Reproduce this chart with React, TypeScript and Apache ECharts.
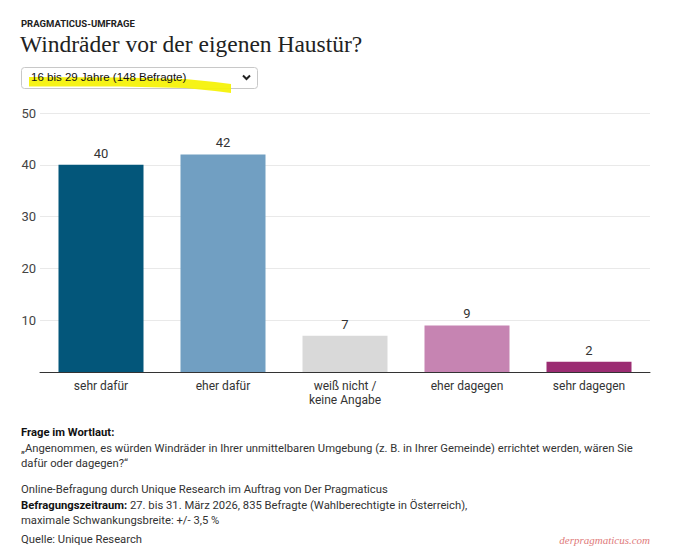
import React, { useEffect, useRef } from "react";
import * as echarts from "echarts";

const categories = ["sehr dafür", "eher dafür", "weiß nicht /\nkeine Angabe", "eher dagegen", "sehr dagegen"];
const values = [40, 42, 7, 9, 2];
const barColors = ["#03567a", "#719fc2", "#d9d9d9", "#c684b2", "#9b2c72"];
const yTicks = { min: 0, max: 50, interval: 10 };

const SANS = "Roboto, 'Noto Sans', sans-serif";
const SERIF = "'Liberation Serif', 'DejaVu Serif', serif";

export default function App() {
  const ref = useRef<HTMLDivElement>(null);
  useEffect(() => {
    if (!ref.current) return;
    const chart = echarts.init(ref.current, null, { renderer: "svg" });
    const footSize = 11.25;
    const footColor = "#333";
    chart.setOption({
      animation: false,
      backgroundColor: "#fff",
      grid: { left: 40, right: 30, top: 113, bottom: 187, containLabel: false },
      xAxis: {
        type: "category",
        data: categories,
        axisLine: { show: true, lineStyle: { color: "#333", width: 1 } },
        axisTick: { show: false },
        axisLabel: {
          color: "#333",
          fontFamily: SANS,
          fontSize: 12,
          margin: 7,
          lineHeight: 14,
          interval: 0,
        },
      },
      yAxis: {
        type: "value",
        min: yTicks.min,
        max: yTicks.max,
        interval: yTicks.interval,
        axisLine: { show: false },
        axisTick: { show: false },
        splitLine: { lineStyle: { color: "#e9e9e9", width: 1 } },
        axisLabel: {
          color: "#444",
          fontFamily: SANS,
          fontSize: 13,
          margin: 4,
          formatter: (v: number) => (v === 0 ? "" : String(v)),
        },
      },
      series: [
        {
          type: "bar",
          data: values.map((v, i) => ({ value: v, itemStyle: { color: barColors[i] } })),
          barWidth: 85,
          label: {
            show: true,
            position: "top",
            distance: 5,
            color: "#333",
            fontFamily: SANS,
            fontSize: 13,
          },
        },
      ],
      graphic: [
        {
          type: "text",
          left: 21,
          top: 18,
          style: { text: "PRAGMATICUS-UMFRAGE", font: `bold 9.5px ${SANS}`, fill: "#222" },
        },
        {
          type: "text",
          left: 20,
          top: 32,
          style: { text: "Windräder vor der eigenen Haustür?", font: `23.5px ${SERIF}`, fill: "#222" },
        },
        {
          type: "rect",
          shape: { x: 21.5, y: 67.5, width: 236, height: 21, r: 3 },
          style: { fill: "#fff", stroke: "#c8c8c8", lineWidth: 1 },
        },
        {
          type: "polygon",
          shape: {
            points: [
              [29, 77], [120, 77.5], [185, 79], [215, 82], [231, 84],
              [231, 93], [215, 91], [185, 88], [120, 86.5], [29, 86.5],
            ],
          },
          style: { fill: "#f5f20a", opacity: 0.95 },
        },
        {
          type: "text",
          left: 31,
          top: 71,
          style: { text: "16 bis 29 Jahre (148 Befragte)", font: `11.5px 'Liberation Sans', Arial, sans-serif`, fill: "#111" },
        },
        {
          type: "polyline",
          shape: { points: [[243, 75.5], [246.5, 79], [250, 75.5]] },
          style: { stroke: "#222", lineWidth: 2, fill: null },
        },
        {
          type: "text",
          left: 21,
          top: 425,
          style: {
            text:
              "{b|Frage im Wortlaut:}\n" +
              "„Angenommen, es würden Windräder in Ihrer unmittelbaren Umgebung (z. B. in Ihrer Gemeinde) errichtet werden, wären Sie\n" +
              "dafür oder dagegen?“",
            font: `${footSize}px ${SANS}`,
            fill: footColor,
            lineHeight: 15.5,
            rich: {
              b: { fontWeight: "bold", fontFamily: SANS, fontSize: footSize, fill: "#111", lineHeight: 15.5 },
            },
          },
        },
        {
          type: "text",
          left: 21,
          top: 482,
          style: {
            text:
              "Online-Befragung durch Unique Research im Auftrag von Der Pragmaticus\n" +
              "{b|Befragungszeitraum:} 27. bis 31. März 2026, 835 Befragte (Wahlberechtigte in Österreich),\n" +
              "maximale Schwankungsbreite: +/- 3,5 %",
            font: `${footSize}px ${SANS}`,
            fill: footColor,
            lineHeight: 15.5,
            rich: {
              b: { fontWeight: "bold", fontFamily: SANS, fontSize: footSize, fill: "#111", lineHeight: 15.5 },
            },
          },
        },
        {
          type: "text",
          left: 21,
          top: 534,
          style: { text: "Quelle: Unique Research", font: `${footSize}px ${SANS}`, fill: footColor },
        },
        {
          type: "text",
          right: 30,
          top: 534,
          style: { text: "derpragmaticus.com", font: `italic 11px ${SERIF}`, fill: "#e07a7a" },
        },
      ],
    });
    return () => chart.dispose();
  }, []);
  return (
    <div
      ref={ref}
      style={{ position: "absolute", left: 0, top: 0, width: 680, height: 559 }}
    />
  );
}
